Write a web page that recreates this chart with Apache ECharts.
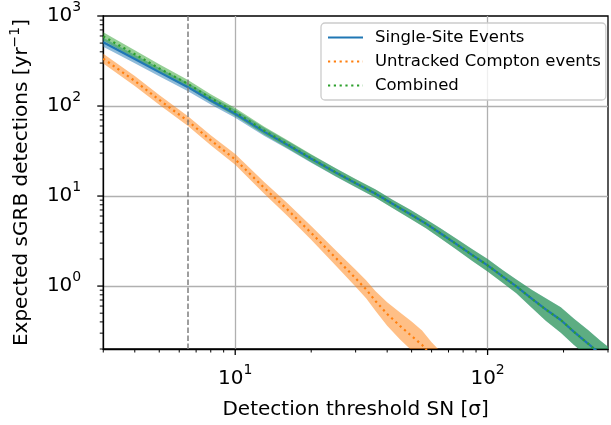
<!DOCTYPE html>
<html>
<head>
<meta charset="utf-8">
<script src="https://cdn.jsdelivr.net/npm/echarts@6/dist/echarts.min.js"></script>
<style>
html, body { margin: 0; padding: 0; background: #fff; }
#chart { width: 611px; height: 425px; }
</style>
</head>
<body>
<div id="chart"></div>
<script>
// detection threshold grid (sigma)
var snr = [3, 4, 5, 6.5, 8, 10, 13, 16, 20, 25, 30, 36, 42, 50, 57, 65, 75, 87, 100, 115, 130, 150, 170, 195, 220, 250, 280, 300];
var singleSite   = [510, 333, 238, 162, 115, 82, 52, 37.4, 26, 18.3, 13.9, 10.6, 8.2, 6.15, 4.94, 3.86, 2.94, 2.21, 1.70, 1.27, 0.99, 0.72, 0.55, 0.42, 0.31, 0.23, 0.175, 0.15];
var singleSiteLo = [455, 298, 214, 146, 104, 73.9, 46.9, 33.7, 23.4, 16.5, 12.5, 9.56, 7.39, 5.48, 4.40, 3.40, 2.56, 1.90, 1.45, 1.08, 0.833, 0.572, 0.412, 0.304, 0.222, 0.163, 0.124, 0.106];
var singleSiteHi = [572, 372, 265, 180, 128, 90.9, 57.7, 41.5, 28.8, 20.3, 15.4, 11.8, 9.09, 6.90, 5.54, 4.38, 3.38, 2.57, 2.00, 1.50, 1.18, 0.906, 0.734, 0.580, 0.433, 0.325, 0.247, 0.212];
var combined   = [594, 376, 262, 176, 122, 85.7, 53.6, 38.1, 26.3, 18.4, 13.95, 10.6, 8.2, 6.15, 4.94, 3.86, 2.94, 2.21, 1.70, 1.27, 0.99, 0.72, 0.55, 0.42, 0.31, 0.23, 0.175, 0.15];
var combinedLo = [536, 339, 236, 159, 110, 77.3, 48.3, 34.4, 23.7, 16.6, 12.6, 9.56, 7.39, 5.48, 4.40, 3.40, 2.56, 1.90, 1.45, 1.08, 0.833, 0.572, 0.412, 0.304, 0.222, 0.163, 0.124, 0.106];
var combinedHi = [659, 417, 291, 195, 135, 95.0, 59.4, 42.3, 29.2, 20.4, 15.5, 11.8, 9.09, 6.90, 5.54, 4.38, 3.38, 2.57, 2.00, 1.50, 1.18, 0.906, 0.734, 0.580, 0.433, 0.325, 0.247, 0.212];

var snrUntracked = [3, 4, 5, 6.5, 8, 10, 13, 16, 20, 25, 30, 33, 36, 40, 45, 50, 55, 60, 65];
var untracked   = [336, 190, 117, 68, 41.7, 25.5, 12.4, 7.2, 3.9, 2.06, 1.22, 0.92, 0.68, 0.49, 0.36, 0.279, 0.222, 0.165, 0.13];
var untrackedLo = [296, 167, 103, 59.9, 36.7, 22.2, 10.7, 6.13, 3.28, 1.69, 0.98, 0.731, 0.528, 0.363, 0.255, 0.193, 0.154, 0.114, 0.09];
var untrackedHi = [381, 216, 133, 77.2, 47.3, 29.3, 14.4, 8.46, 4.64, 2.50, 1.52, 1.16, 0.876, 0.661, 0.509, 0.403, 0.321, 0.238, 0.188];

var threshold = 6.5;

var xMin = 3, xMax = 300, yMin = 0.2, yMax = 1000;
var xMajor = [10, 100];
var xMinor = [3, 4, 5, 6, 7, 8, 9, 20, 30, 40, 50, 60, 70, 80, 90, 200, 300];
var yMajor = [1, 10, 100, 1000];
var yMinor = [0.2, 0.3, 0.4, 0.5, 0.6, 0.7, 0.8, 0.9, 2, 3, 4, 5, 6, 7, 8, 9, 20, 30, 40, 50, 60, 70, 80, 90, 200, 300, 400, 500, 600, 700, 800, 900];

var FONT = 'DejaVu Sans';
var C_BLUE = '#1f77b4', C_ORANGE = '#ff7f0e', C_GREEN = '#2ca02c';
var NO_SYMBOL = { color: 'rgba(0,0,0,0)', borderWidth: 0 };

function pairs(xs, ys) {
    return xs.map(function (x, i) { return [x, ys[i]]; });
}

// filled uncertainty band drawn as one polygon
function band(xs, lo, hi, fill) {
    return {
        type: 'custom', silent: true, clip: true,
        data: xs.map(function (x, i) { return [x, lo[i], hi[i]]; }),
        encode: { x: 0, y: [1, 2] },
        renderItem: function (params, api) {
            if (params.dataIndex !== 0) return null;
            var pts = [];
            for (var i = 0; i < xs.length; i++) pts.push(api.coord([xs[i], hi[i]]));
            for (var j = xs.length - 1; j >= 0; j--) pts.push(api.coord([xs[j], lo[j]]));
            return { type: 'polygon', shape: { points: pts }, style: { fill: fill } };
        }
    };
}

function ticks(values, dir, len, width) {
    return {
        type: 'custom', silent: true, clip: false, z: 10,
        data: values.map(function (v) { return dir === 'x' ? [v, yMin] : [xMin, v]; }),
        renderItem: function (params, api) {
            var p = api.coord([api.value(0), api.value(1)]);
            var shape = dir === 'x'
                ? { x1: p[0], y1: p[1], x2: p[0], y2: p[1] + len }
                : { x1: p[0], y1: p[1], x2: p[0] - len, y2: p[1] };
            return { type: 'line', shape: shape, style: { stroke: '#000', lineWidth: width } };
        }
    };
}

function sciLabel(v) {
    var l = Math.log10(v);
    var e = Math.round(l);
    if (Math.abs(l - e) > 1e-6) return '';
    return '{b|10}{s|' + e + '}';
}

var labelRich = {
    b: { fontFamily: FONT, fontSize: 20, color: '#000', lineHeight: 32 },
    s: { fontFamily: FONT, fontSize: 14, color: '#000', verticalAlign: 'top', lineHeight: 16 }
};

var chart = echarts.init(document.getElementById('chart'), null, { renderer: 'canvas' });

var option = {
    animation: false,
    backgroundColor: '#fff',
    grid: { left: 102, top: 15, right: -2, bottom: 72, show: true, borderColor: '#000', borderWidth: 1.3, backgroundColor: 'transparent' },
    legend: {
        data: ['Single-Site Events', 'Untracked Compton events', 'Combined'],
        orient: 'vertical', left: 321, top: 23,
        itemWidth: 35, itemHeight: 14, itemGap: 7,
        padding: [6, 5, 6, 6],
        backgroundColor: 'rgba(255,255,255,0.8)',
        borderColor: '#cccccc', borderWidth: 1.3, borderRadius: 4,
        textStyle: { fontFamily: FONT, fontSize: 16.5, lineHeight: 17, color: '#000', padding: [0, 0, 0, 7] }
    },
    xAxis: {
        type: 'log', logBase: 10, min: xMin, max: xMax,
        name: 'Detection threshold SN [σ]', nameLocation: 'middle', nameGap: 51,
        nameTextStyle: { fontFamily: FONT, fontSize: 20, color: '#000' },
        axisLine: { show: true, lineStyle: { color: '#000', width: 1.3 } },
        axisTick: { show: false },
        axisLabel: { formatter: sciLabel, rich: labelRich, fontSize: 20, margin: 14 },
        splitLine: { show: true, showMinLine: false, showMaxLine: false, lineStyle: { color: '#b0b0b0', width: 1.3 } }
    },
    yAxis: {
        type: 'log', logBase: 10, min: yMin, max: yMax,
        name: 'Expected sGRB detections [yr{s|−1}]', nameLocation: 'middle', nameGap: 66,
        nameTextStyle: { fontFamily: FONT, fontSize: 20, lineHeight: 28, color: '#000', rich: { s: { fontFamily: FONT, fontSize: 14, lineHeight: 16, color: '#000', verticalAlign: 'top' } } },
        axisLine: { show: true, lineStyle: { color: '#000', width: 1.3 } },
        axisTick: { show: false },
        axisLabel: { formatter: sciLabel, rich: labelRich, fontSize: 20, margin: 22 },
        splitLine: { show: true, showMinLine: false, showMaxLine: false, lineStyle: { color: '#b0b0b0', width: 1.3 } }
    },
    series: [
        band(snr, singleSiteLo, singleSiteHi, 'rgba(31,119,180,0.5)'),
        {
            name: 'Single-Site Events', type: 'line', symbol: 'none', showSymbol: false,
            data: pairs(snr, singleSite),
            lineStyle: { color: C_BLUE, width: 2.2 }, itemStyle: NO_SYMBOL,
            markLine: {
                silent: true, symbol: 'none', label: { show: false },
                lineStyle: { color: '#7f7f7f', width: 1.5, type: [5.5, 2.5] },
                data: [{ xAxis: threshold }]
            }
        },
        band(snrUntracked, untrackedLo, untrackedHi, 'rgba(255,127,14,0.5)'),
        {
            name: 'Untracked Compton events', type: 'line', symbol: 'none', showSymbol: false,
            data: pairs(snrUntracked, untracked),
            lineStyle: { color: C_ORANGE, width: 2.2, type: [2.2, 3.6] }, itemStyle: NO_SYMBOL
        },
        band(snr, combinedLo, combinedHi, 'rgba(44,160,44,0.5)'),
        {
            name: 'Combined', type: 'line', symbol: 'none', showSymbol: false,
            data: pairs(snr, combined),
            lineStyle: { color: C_GREEN, width: 2.2, type: [2.2, 3.6] }, itemStyle: NO_SYMBOL
        },
        ticks(xMajor, 'x', 6, 1.3),
        ticks(xMinor, 'x', 3.5, 1),
        ticks(yMajor, 'y', 6, 1.3),
        ticks(yMinor, 'y', 3.5, 1)
    ]
};

chart.setOption(option);
</script>
</body>
</html>
